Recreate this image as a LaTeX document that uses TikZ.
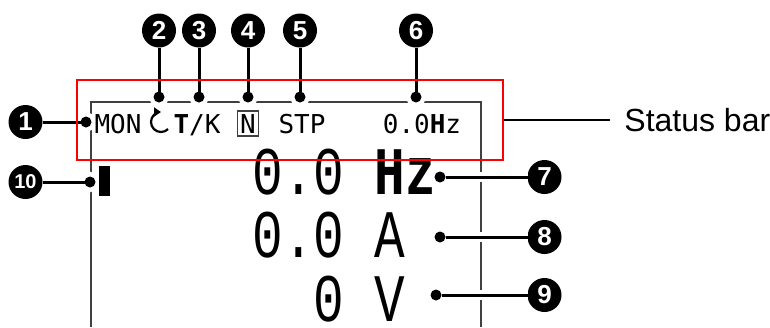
\documentclass[tikz,border=0pt]{standalone}
\usepackage{fontspec}
\usepackage{graphicx}
\usepackage{tikz}
\usetikzlibrary{arrows.meta, positioning}

\newfontfamily\lcdfont{DejaVu Sans Mono}
\newfontfamily\lcdthin{Liberation Mono}
\newfontfamily\calloutfont{Liberation Sans}
\colorlet{lcdgrey}{black!75}

\newcommand{\lcdbig}[1]{\scalebox{0.75}[1]{\lcdthin\fontsize{34}{34}\selectfont\frenchspacing #1}}

\begin{document}
\begin{tikzpicture}[
    x=0.5pt, y=-0.5pt,
    >=Stealth,
    callout/.style={
        circle, fill=black, text=white, minimum size=17pt, inner sep=0pt,
        outer sep=0pt, font=\calloutfont\bfseries\fontsize{13}{13}\selectfont
    },
    dot/.style={
        circle, fill=black, minimum size=5.5pt, inner sep=0pt, outer sep=0pt,
        preaction={draw=white, line width=4.5pt}
    },
    lead/.style={line width=1.5pt},
    casedlead/.style={line width=1.5pt, preaction={draw=white, line width=5pt}},
    frame/.style={draw=lcdgrey, line width=1pt},
    lcdsmall/.style={inner sep=0pt, anchor=base,
        font=\lcdfont\fontsize{13}{13}\selectfont},
    lcdrow/.style={inner sep=0pt, anchor=base west}
]
\useasboundingbox (0,0) rectangle (770,327);

% LCD frame
\draw[frame] (91,327) -- (91,102) -- (481,102) -- (481,327);

% dots on the frame
\node[dot] (d1) at (86,122) {};
\node[dot] (d2) at (159,97) {};
\node[dot] (d3) at (199,97) {};
\node[dot] (d4) at (248,97) {};
\node[dot] (d5) at (300,97) {};
\node[dot] (d6) at (416,97) {};
\node[dot] (d7) at (440,177) {};
\node[dot] (d8) at (440,237) {};
\node[dot] (d9) at (436,295) {};
\node[dot] (d10) at (90,182) {};

% callouts
\node[callout, left=19pt of d1] (c1) {1};
\node[callout, above=22pt of d2] (c2) {2};
\node[callout, above=22pt of d3] (c3) {3};
\node[callout, above=22pt of d4] (c4) {4};
\node[callout, above=22pt of d5] (c5) {5};
\node[callout, above=22pt of d6] (c6) {6};
\node[callout, right=41pt of d7] (c7) {7};
\node[callout, right=41pt of d8] (c8) {8};
\node[callout, right=43pt of d9] (c9) {9};
\node[callout, left=21pt of d10,
      font=\calloutfont\bfseries\fontsize{10}{10}\selectfont] (c10) {10};

% leaders
\draw[lead] (c1) -- (d1);
\foreach \i in {2,...,6}
    \draw[lead] (c\i) -- (d\i);
\foreach \i in {7,8,9}
    \draw[casedlead] (d\i) -- (c\i);
\draw[lead] (c10) -- (d10);

% status line of the display
\node[lcdsmall] (mon) at (118,133) {MON};
\coordinate (rotc) at (161,122);
\draw[line width=1.1pt, -{Triangle[length=3.5pt, width=4.5pt]}]
    ([shift={(315:5pt)}]rotc) arc[start angle=315, end angle=90, radius=5pt];
\node[lcdsmall] (tk) at (197,133) {{\bfseries T}/K};
\node[lcdsmall, draw=lcdgrey, line width=0.6pt, inner sep=1.5pt] (nbox) at (248,133) {N};
\node[lcdsmall] (stp) at (302,133) {STP};
\node[lcdsmall] (hz) at (422,133) {0.0{\bfseries H}z};

% monitor rows
\node[lcdrow] (row1) at (252,194) {\lcdbig{0.0 \textbf{Hz}}};
\node[lcdrow] (row2) at (252,257) {\lcdbig{0.0 A}};
\node[lcdrow] (row3) at (252,321) {\lcdbig{\phantom{0.}0 V}};

% cursor
\fill (99,166) rectangle (110,196);

% status bar
\node[draw=red, line width=1pt, minimum width=213pt, minimum height=40pt,
      inner sep=0pt, anchor=north west] (statusbox) at (76,79) {};
\node[right=53pt of statusbox.east, inner sep=7pt,
      font=\calloutfont\fontsize{16}{16}\selectfont] (sblabel) {Status bar};
\draw[line width=1pt] (statusbox) -- (sblabel);

\end{tikzpicture}
\end{document}
